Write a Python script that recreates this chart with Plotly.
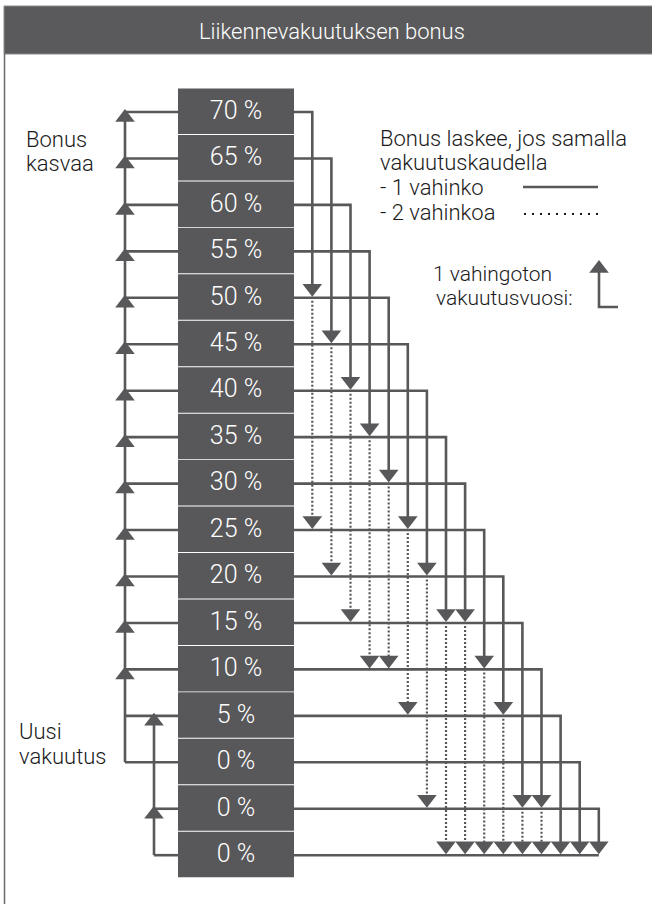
import plotly.graph_objects as go

# ---------------- data ----------------
levels = ["70 %", "65 %", "60 %", "55 %", "50 %", "45 %", "40 %", "35 %", "30 %",
          "25 %", "20 %", "15 %", "10 %", "5 %", "0 %", "0 %", "0 %"]
# row index reached after one claim (solid) / two claims (dotted) for source rows 0..15
one_claim_to = [4, 5, 6, 7, 8, 9, 10, 11, 11, 12, 13, 15, 15, 16, 16, 16]
two_claims_to = [9, 10, 11, 12, 12, 13, 15, 16, 16, 16, 16, 16, 16, None, None, None]
# claim-free year climbs
main_climb_from = 14
main_climb_arrows = [0, 1, 2, 3, 4, 5, 6, 7, 8, 9, 10, 11, 12]
second_climb_from = 16
second_climb_to = 13
second_climb_arrows = [13, 15]
second_climb_rows = [15, 16]

title = "Liikennevakuutuksen bonus"
left_top = ["Bonus", "kasvaa"]
left_bottom = ["Uusi", "vakuutus"]
legend_lines = ["Bonus laskee, jos samalla", "vakuutuskaudella", "- 1 vahinko", "- 2 vahinkoa"]
year_lines = ["1 vahingoton", "vakuutusvuosi:"]

# ---------------- layout constants ----------------
W, H = 652, 904
ROW0, ROW_STEP = 112, 46.45
BOX_L, BOX_R, BOX_HALF = 178, 294, 22
COL0, COL_STEP = 312.3, 19.1
MAIN_X, SECOND_X = 125, 154
DARK = "#58585a"
FONT = "Roboto"
TRI = 17


def ry(i):
    return ROW0 + ROW_STEP * i


def cx(i):
    return COL0 + COL_STEP * i


solid_x, solid_y = [], []
dot_x, dot_y = [], []
down_x, down_y = [], []
up_x, up_y = [], []


def seg(xs, ys, pts):
    for p in pts:
        xs.append(p[0]); ys.append(p[1])
    xs.append(None); ys.append(None)


# left: main climb
seg(solid_x, solid_y, [(MAIN_X, ry(main_climb_from)), (MAIN_X, ry(0))])
for r in range(0, main_climb_from + 1):
    seg(solid_x, solid_y, [(MAIN_X, ry(r)), (BOX_L, ry(r))])
for r in main_climb_arrows:
    up_x.append(MAIN_X); up_y.append(ry(r) + 5.5)

# left: second climb
seg(solid_x, solid_y, [(SECOND_X, ry(second_climb_from)), (SECOND_X, ry(second_climb_to))])
for r in second_climb_rows:
    seg(solid_x, solid_y, [(SECOND_X, ry(r)), (BOX_L, ry(r))])
for r in second_climb_arrows:
    up_x.append(SECOND_X); up_y.append(ry(r) + 5.5)

# right: claims
for i, t in enumerate(one_claim_to):
    x = cx(i)
    seg(solid_x, solid_y, [(BOX_R, ry(i)), (x, ry(i)), (x, ry(t) - 8)])
    down_x.append(x); down_y.append(ry(t) - 9.5)
    t2 = two_claims_to[i]
    if t2 is not None:
        seg(dot_x, dot_y, [(x, ry(t) + 3), (x, ry(t2) - 9)])
        down_x.append(x); down_y.append(ry(t2) - 9.5)
# bottom row base line
seg(solid_x, solid_y, [(BOX_R, ry(len(levels) - 1)), (cx(len(one_claim_to) - 1), ry(len(levels) - 1))])

# legend samples
seg(solid_x, solid_y, [(523, 187), (598, 187)])
seg(solid_x, solid_y, [(599, 272), (599, 307), (618, 307)])
up_x.append(599); up_y.append(268.5)
leg_dot_x, leg_dot_y = [], []
seg(leg_dot_x, leg_dot_y, [(524, 214), (600, 214)])

fig = go.Figure()
fig.add_trace(go.Scatter(x=solid_x, y=solid_y, mode="lines",
                         line=dict(color=DARK, width=2.6), hoverinfo="skip"))
fig.add_trace(go.Scatter(x=dot_x, y=dot_y, mode="lines",
                         line=dict(color=DARK, width=2.2, dash="2px,2px"), hoverinfo="skip"))
fig.add_trace(go.Scatter(x=leg_dot_x, y=leg_dot_y, mode="lines",
                         line=dict(color="#1a1a1a", width=2, dash="2px,6px"), hoverinfo="skip"))
fig.add_trace(go.Scatter(x=down_x, y=down_y, mode="markers",
                         marker=dict(symbol="triangle-down", size=TRI, color=DARK,
                                     line=dict(width=0)), hoverinfo="skip"))
fig.add_trace(go.Scatter(x=up_x, y=up_y, mode="markers",
                         marker=dict(symbol="triangle-up", size=TRI, color=DARK,
                                     line=dict(width=0)), hoverinfo="skip"))
fig.add_trace(go.Scatter(x=[(BOX_L + BOX_R) / 2] * len(levels),
                         y=[ry(i) + 0.5 for i in range(len(levels))],
                         mode="text", text=levels, textposition="middle center",
                         textfont=dict(family=FONT, size=25, color="white", weight=300),
                         hoverinfo="skip"))

shapes = []
# header
shapes.append(dict(type="rect", xref="x", yref="y", x0=4, x1=W + 2, y0=6, y1=54,
                   fillcolor="#5a5a5c", line=dict(width=1, color="#8a8a8a"), layer="below"))
# left border
shapes.append(dict(type="line", xref="x", yref="y", x0=4.5, x1=4.5, y0=54, y1=H,
                   line=dict(width=1.5, color="#6a6a6a"), layer="below"))
# boxes
for i in range(len(levels)):
    shapes.append(dict(type="rect", xref="x", yref="y", x0=BOX_L, x1=BOX_R,
                       y0=ry(i) - BOX_HALF - 1.5, y1=ry(i) + BOX_HALF,
                       fillcolor=DARK, line=dict(width=0), layer="below"))

annotations = []


def label(text, x, y, size=22, anchor="left", color="#1a1a1a"):
    annotations.append(dict(text=text, x=x, y=y, xref="x", yref="y", xanchor=anchor,
                            yanchor="middle", showarrow=False,
                            font=dict(family=FONT, size=size, color=color, weight=300)))


label(title, W / 2 + 6, 31, size=22, anchor="center", color="white")
label(left_top[0], 24, 139)
label(left_top[1], 24, 163)
label(left_bottom[0], 17, 731)
label(left_bottom[1], 17, 756)
for k, t in enumerate(legend_lines):
    label(t, 378, 138 + 24.7 * k)
label(year_lines[0], 431, 274, size=21)
label(year_lines[1], 434, 298, size=21)

fig.update_layout(
    width=W, height=H, margin=dict(l=0, r=0, t=0, b=0),
    paper_bgcolor="white", plot_bgcolor="white", showlegend=False,
    xaxis=dict(range=[0, W], visible=False, fixedrange=True),
    yaxis=dict(range=[H, 0], visible=False, fixedrange=True),
    shapes=shapes, annotations=annotations, hovermode=False,
)

fig.write_html("out.html", config={"displayModeBar": False},
               post_script="document.body.style.margin='0';document.body.style.overflow='hidden';")
